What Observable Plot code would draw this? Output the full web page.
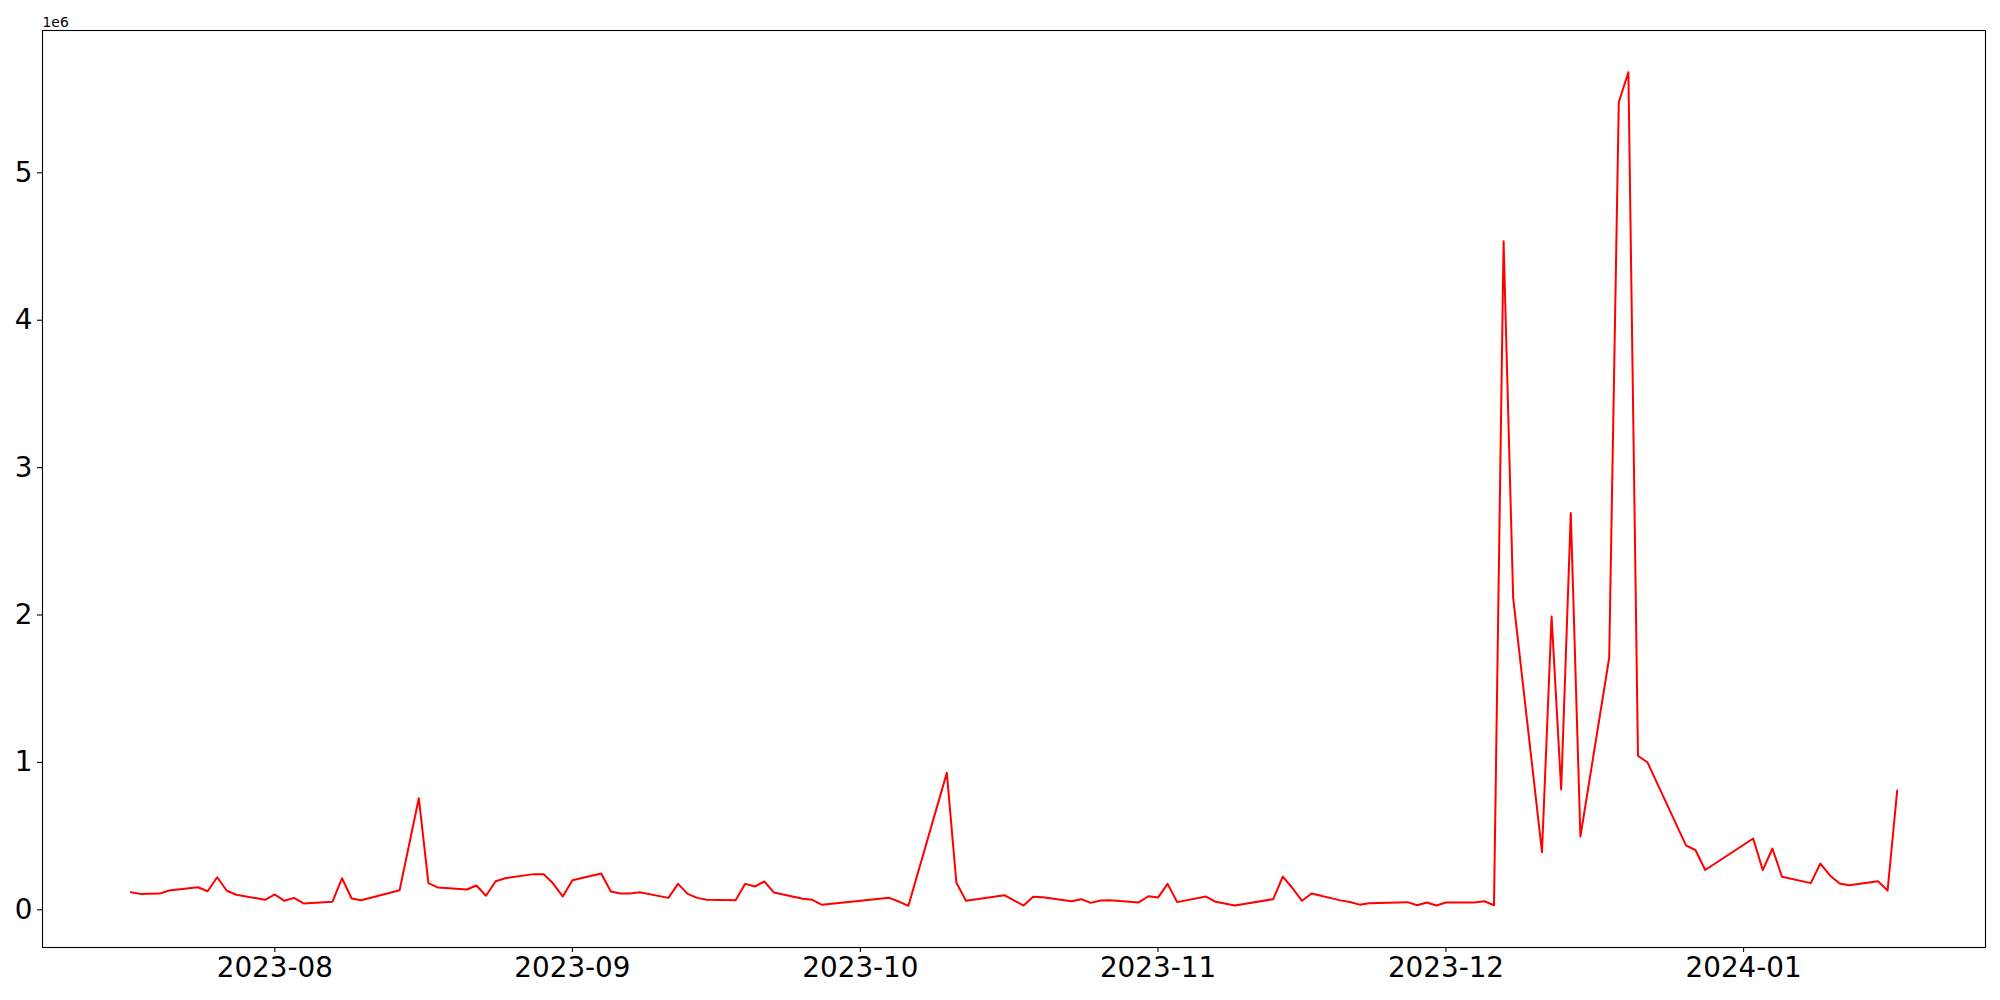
<!DOCTYPE html>
<html>
<head>
<meta charset="utf-8">
<script src="https://cdn.jsdelivr.net/npm/d3@7"></script>
<script src="https://cdn.jsdelivr.net/npm/@observablehq/plot@0.6"></script>
<style>
  html, body { margin: 0; padding: 0; background: #fff; }
  #chart { width: 2000px; height: 1000px; }
</style>
</head>
<body>
<div id="chart"></div>
<script>
const dates = [
  "2023-07-17","2023-07-18","2023-07-20","2023-07-21","2023-07-24","2023-07-25","2023-07-26","2023-07-27","2023-07-28","2023-07-31",
  "2023-08-01","2023-08-02","2023-08-03","2023-08-04","2023-08-07","2023-08-08","2023-08-09","2023-08-10","2023-08-14","2023-08-16",
  "2023-08-17","2023-08-18","2023-08-21","2023-08-22","2023-08-23","2023-08-24","2023-08-25","2023-08-28","2023-08-29","2023-08-30",
  "2023-08-31","2023-09-01","2023-09-04","2023-09-05","2023-09-06","2023-09-07","2023-09-08","2023-09-11","2023-09-12","2023-09-13",
  "2023-09-14","2023-09-15","2023-09-18","2023-09-19","2023-09-20","2023-09-21","2023-09-22","2023-09-25","2023-09-26","2023-09-27",
  "2023-10-04","2023-10-05","2023-10-06","2023-10-10","2023-10-11","2023-10-12","2023-10-16","2023-10-18","2023-10-19","2023-10-20",
  "2023-10-23","2023-10-24","2023-10-25","2023-10-26","2023-10-27","2023-10-30","2023-10-31","2023-11-01","2023-11-02","2023-11-03",
  "2023-11-06","2023-11-07","2023-11-09","2023-11-13","2023-11-14","2023-11-15","2023-11-16","2023-11-17","2023-11-20","2023-11-21",
  "2023-11-22","2023-11-23","2023-11-27","2023-11-28","2023-11-29","2023-11-30","2023-12-01","2023-12-04","2023-12-05","2023-12-06",
  "2023-12-07","2023-12-08","2023-12-11","2023-12-12","2023-12-13","2023-12-14","2023-12-15","2023-12-18","2023-12-19","2023-12-20",
  "2023-12-21","2023-12-22","2023-12-26","2023-12-27","2023-12-28","2024-01-02","2024-01-03","2024-01-04","2024-01-05","2024-01-08",
  "2024-01-09","2024-01-10","2024-01-11","2024-01-12","2024-01-15","2024-01-16","2024-01-17"
];
const values = [
  119000,108000,110000,131000,153000,126000,221000,129000,102000,68000,
  104000,61000,81000,43000,54000,214000,77000,65000,133000,757000,
  181000,151000,138000,165000,95000,194000,214000,242000,242000,178000,
  90000,201000,246000,124000,111000,111000,119000,81000,176000,108000,
  81000,68000,65000,176000,158000,192000,117000,75000,68000,34000,
  81000,56000,27000,929000,183000,61000,99000,29000,88000,85000,
  58000,72000,47000,63000,65000,50000,92000,83000,176000,52000,
  90000,54000,29000,72000,225000,148000,61000,111000,64000,53000,
  35000,44000,52000,31000,50000,29000,50000,50000,58000,31000,
  4536000,2114000,391000,1990000,816000,2693000,497000,1710000,5479000,5683000,
  1045000,999000,437000,404000,270000,484000,269000,416000,224000,181000,
  314000,233000,178000,167000,194000,131000,809000
];
const yTicks = [0, 1e6, 2e6, 3e6, 4e6, 5e6];
const xTicks = ["2023-08-01","2023-09-01","2023-10-01","2023-11-01","2023-12-01","2024-01-01"];
const offsetLabel = "1e6";

const data = dates.map((d, i) => ({date: new Date(d + "T00:00:00Z"), value: values[i]}));

// matplotlib-style 5% margins
const tMin = d3.min(data, d => +d.date), tMax = d3.max(data, d => +d.date);
const tPad = (tMax - tMin) * 0.05;
const vMin = d3.min(values), vMax = d3.max(values);
const vPad = (vMax - vMin) * 0.05;

const font = "DejaVu Sans, sans-serif";

const chart = Plot.plot({
  width: 2000,
  height: 1000,
  marginLeft: 42,
  marginRight: 15,
  marginTop: 30,
  marginBottom: 53,
  style: {fontFamily: font, background: "#fff", color: "#000", overflow: "visible"},
  x: {type: "utc", domain: [new Date(tMin - tPad), new Date(tMax + tPad)]},
  y: {domain: [vMin - vPad, vMax + vPad]},
  marks: [
    Plot.axisX({
      ticks: xTicks.map(d => new Date(d + "T00:00:00Z")),
      tickFormat: d3.utcFormat("%Y-%m"),
      tickSize: 5,
      tickPadding: 5,
      fontSize: 27.8,
      stroke: "#000",
      strokeWidth: 1.1,
      label: null
    }),
    Plot.axisY({
      ticks: yTicks,
      tickFormat: d => String(d / 1e6),
      tickSize: 5,
      tickPadding: 5,
      fontSize: 27.8,
      stroke: "#000",
      strokeWidth: 1.1,
      label: null
    }),
    Plot.line(data, {x: "date", y: "value", stroke: "#ff0000", strokeWidth: 2}),
    Plot.frame({stroke: "#000", strokeWidth: 1.1}),
    Plot.text([offsetLabel], {
      text: d => d,
      frameAnchor: "top-left",
      textAnchor: "start",
      lineAnchor: "bottom",
      dy: -4,
      dx: 0,
      fontSize: 13.9,
      fill: "#000"
    })
  ]
});

document.getElementById("chart").appendChild(chart);
</script>
</body>
</html>
